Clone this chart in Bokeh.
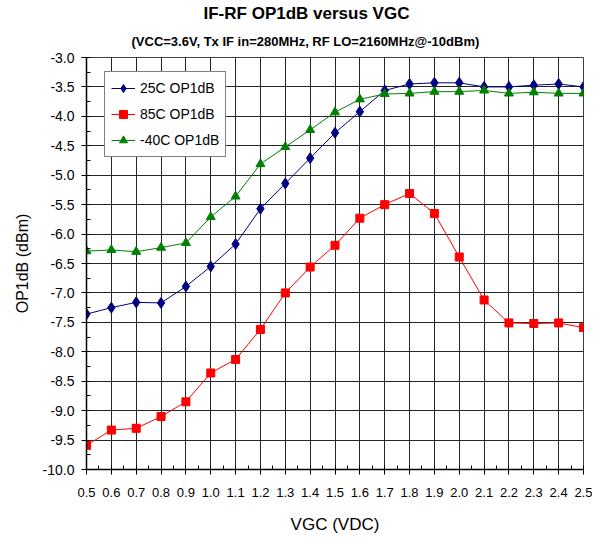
from bokeh.plotting import figure
from bokeh.models import SingleIntervalTicker, NumeralTickFormatter, Range1d, Title
from bokeh.embed import file_html
from bokeh.resources import INLINE

# ---- data ----
vgc = [0.5, 0.6, 0.7, 0.8, 0.9, 1.0, 1.1, 1.2, 1.3, 1.4, 1.5,
       1.6, 1.7, 1.8, 1.9, 2.0, 2.1, 2.2, 2.3, 2.4, 2.5]
op1db_25c = [-7.36, -7.25, -7.16, -7.17, -6.89, -6.55, -6.17, -5.57, -5.14, -4.71, -4.28,
             -3.92, -3.56, -3.45, -3.43, -3.43, -3.50, -3.50, -3.47, -3.45, -3.50]
op1db_85c = [-9.59, -9.33, -9.30, -9.10, -8.85, -8.36, -8.13, -7.62, -7.00, -6.56, -6.19,
             -5.73, -5.50, -5.31, -5.65, -6.39, -7.12, -7.51, -7.52, -7.51, -7.59]
op1db_m40c = [-6.29, -6.27, -6.30, -6.23, -6.15, -5.71, -5.36, -4.81, -4.52, -4.23, -3.93,
              -3.71, -3.62, -3.61, -3.58, -3.58, -3.56, -3.61, -3.59, -3.61, -3.61]
series_names = ["25C OP1dB", "85C OP1dB", "-40C OP1dB"]
title_text = "IF-RF OP1dB versus VGC"
subtitle_text = "(VCC=3.6V, Tx IF in=280MHz, RF LO=2160MHz@-10dBm)"
x_label = "VGC (VDC)"
y_label = "OP1dB (dBm)"

FONT = "Liberation Sans"

p = figure(width=592, height=536, output_backend="svg", toolbar_location=None,
           title=None, x_range=Range1d(0.5, 2.5), y_range=Range1d(-10, -3),
           min_border_left=86, min_border_right=9, min_border_top=57, min_border_bottom=67)
p.background_fill_color = "white"
p.border_fill_color = "white"
p.outline_line_color = "#404040"
p.outline_line_width = 1

# titles
sub = Title(text=subtitle_text, text_font=FONT, text_font_size="13px", text_font_style="bold",
            align="left", offset=45, standoff=18, text_color="black")
main = Title(text=title_text, text_font=FONT, text_font_size="17px", text_font_style="bold",
             align="left", offset=117, standoff=0, text_color="black")
p.add_layout(sub, "above")
p.add_layout(main, "above")

# axes
p.xaxis.ticker = SingleIntervalTicker(interval=0.1, num_minor_ticks=2)
p.yaxis.ticker = SingleIntervalTicker(interval=0.5, num_minor_ticks=2)
p.xaxis.formatter = NumeralTickFormatter(format="0.0")
p.yaxis.formatter = NumeralTickFormatter(format="0.0")
for ax in (p.xaxis, p.yaxis):
    ax.axis_line_color = "black"
    ax.axis_line_width = 1.5
    ax.major_tick_line_color = "black"
    ax.minor_tick_line_color = "black"
    ax.major_tick_in = 0
    ax.major_tick_out = 5
    ax.minor_tick_in = 4
    ax.minor_tick_out = 0
    ax.major_label_text_font = FONT
    ax.major_label_text_color = "black"
    ax.axis_label_text_font = FONT
    ax.axis_label_text_font_style = "normal"
    ax.axis_label_text_color = "black"
p.xaxis.major_label_text_font_size = "13px"
p.yaxis.major_label_text_font_size = "14px"
p.xaxis.axis_label_text_font_size = "17px"
p.yaxis.axis_label_text_font_size = "16px"
p.xaxis.axis_label = x_label
p.yaxis.axis_label = y_label
p.xaxis.major_label_standoff = 13
p.xaxis.axis_label_standoff = 15
p.yaxis.major_label_standoff = 7
p.yaxis.axis_label_standoff = 9

p.xgrid.ticker = p.xaxis.ticker
p.ygrid.ticker = p.yaxis.ticker
for g in (p.xgrid, p.ygrid):
    g.grid_line_color = "black"
    g.grid_line_width = 1
    g.grid_line_alpha = 0.85

# series
specs = [
    (op1db_25c, "#000080", "diamond", 11),
    (op1db_85c, "#FF0000", "square", 8),
    (op1db_m40c, "#008000", "triangle", 9),
]
for (ys, color, marker, size), name in zip(specs, series_names):
    p.line(vgc, ys, line_color=color, line_width=1, legend_label=name)
    p.scatter(vgc, ys, marker=marker, size=size, fill_color=color, line_color=color,
              legend_label=name)

leg = p.legend[0]
leg.location = (18, 312)
leg.border_line_color = "black"
leg.border_line_width = 1
leg.background_fill_color = "white"
leg.background_fill_alpha = 1
leg.label_text_font = FONT
leg.label_text_font_size = "14px"
leg.label_text_color = "black"
leg.glyph_width = 24
leg.glyph_height = 20
leg.label_height = 20
leg.spacing = 6
leg.padding = 6
leg.margin = 0
leg.label_standoff = 5

open("out.html", "w").write(file_html(p, INLINE))
